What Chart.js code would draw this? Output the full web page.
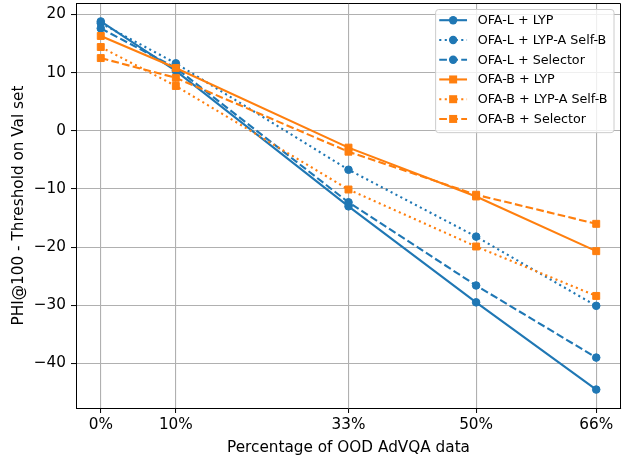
<!DOCTYPE html>
<html>
<head>
<meta charset="utf-8">
<script src="https://cdn.jsdelivr.net/npm/chart.js@4"></script>
<style>
html, body { margin: 0; padding: 0; background: #fff; }
</style>
</head>
<body>
<canvas id="chart" width="629" height="459"></canvas>
<script>
const percents = [0, 10, 33, 50, 66]
const tickLabels = ["0%", "10%", "33%", "50%", "66%"]
const yTicks = [-40, -30, -20, -10, 0, 10, 20]

const ofaLLyp = [18.8, 10.3, -13.0, -29.5, -44.5]
const ofaLSelfB = [18.5, 11.6, -6.7, -18.2, -30.1]
const ofaLSelector = [17.6, 10.8, -12.3, -26.6, -39.0]
const ofaBLyp = [16.3, 10.8, -2.9, -11.3, -20.7]
const ofaBSelfB = [14.4, 7.7, -10.1, -19.9, -28.4]
const ofaBSelector = [12.5, 9.1, -3.6, -11.0, -16.0]

const blue = "#1f77b4"
const orange = "#ff7f0e"
const dashed = [7.7, 3.3]
const dotted = [2.1, 3.4]

const toPoints = (vals) => vals.map((v, i) => ({ x: percents[i], y: v }))

function series(label, vals, color, dash, style, order) {
	return {
		label: label,
		data: toPoints(vals),
		borderColor: color,
		backgroundColor: color,
		borderWidth: 2.1,
		borderDash: dash,
		borderCapStyle: "butt",
		pointStyle: style,
		pointRadius: style === "rect" ? 4.9 : 3.8,
		pointBorderWidth: 1,
		pointBorderColor: color,
		pointBackgroundColor: color,
		tension: 0,
		fill: false,
		order: order
	}
}

// chart.js reserves room for half a label at the ends, matplotlib doesn't
function noPadding(scale) {
	scale.paddingTop = 0
	scale.paddingBottom = 0
	scale.paddingLeft = 0
	scale.paddingRight = 0
}

Chart.defaults.font.family = "'DejaVu Sans', sans-serif"
Chart.defaults.font.size = 15.28
Chart.defaults.color = "#000"

// top and right spines, like matplotlib
const frame = {
	id: "frame",
	afterDatasetsDraw(chart) {
		const { ctx, chartArea: a } = chart
		const t = Math.round(a.top) + 0.5
		const r = Math.round(a.right) - 0.5
		ctx.save()
		ctx.strokeStyle = "#000"
		ctx.lineWidth = 1
		ctx.beginPath()
		ctx.moveTo(a.left, t)
		ctx.lineTo(r, t)
		ctx.lineTo(r, a.bottom)
		ctx.stroke()
		ctx.restore()
	}
}

// legend in the upper right, inside the axes
const insideLegend = {
	id: "insideLegend",
	afterDraw(chart) {
		const { ctx, chartArea: a } = chart
		const sets = chart.data.datasets
		ctx.save()
		ctx.font = "12.73px 'DejaVu Sans', sans-serif"
		let maxW = 0
		sets.forEach(d => { maxW = Math.max(maxW, ctx.measureText(d.label).width) })
		const w = 3.6 + 27.8 + 10.6 + maxW + 6.5
		const rowH = 19.75
		const h = 10.7 + rowH * (sets.length - 1) + 13.7
		const x0 = a.right - 7 - w
		const y0 = a.top + 6.5
		ctx.beginPath()
		ctx.roundRect(x0, y0, w, h, 3)
		ctx.fillStyle = "rgba(255,255,255,0.8)"
		ctx.fill()
		ctx.strokeStyle = "#cccccc"
		ctx.lineWidth = 1
		ctx.stroke()
		sets.forEach((d, i) => {
			const y = y0 + 10.7 + i * rowH
			const lx = x0 + 3.6
			ctx.beginPath()
			ctx.setLineDash(d.borderDash || [])
			ctx.lineCap = "butt"
			ctx.strokeStyle = d.borderColor
			ctx.lineWidth = d.borderWidth
			ctx.moveTo(lx, y)
			ctx.lineTo(lx + 27.8, y)
			ctx.stroke()
			ctx.setLineDash([])
			const cx = lx + 13.9
			ctx.fillStyle = d.borderColor
			ctx.beginPath()
			if (d.pointStyle === "rect") {
				ctx.rect(cx - 4, y - 4, 8, 8)
			} else {
				ctx.arc(cx, y, 4.2, 0, Math.PI * 2)
			}
			ctx.fill()
			ctx.fillStyle = "#000"
			ctx.textBaseline = "middle"
			ctx.textAlign = "left"
			ctx.fillText(d.label, lx + 27.8 + 10.6, y + 0.5)
		})
		ctx.restore()
	}
}

new Chart(document.getElementById("chart").getContext("2d"), {
	type: "line",
	data: {
		datasets: [
			series("OFA-L + LYP", ofaLLyp, blue, [], "circle", 6),
			series("OFA-L + LYP-A Self-B", ofaLSelfB, blue, dotted, "circle", 5),
			series("OFA-L + Selector", ofaLSelector, blue, dashed, "circle", 4),
			series("OFA-B + LYP", ofaBLyp, orange, [], "rect", 3),
			series("OFA-B + LYP-A Self-B", ofaBSelfB, orange, dotted, "rect", 2),
			series("OFA-B + Selector", ofaBSelector, orange, dashed, "rect", 1)
		]
	},
	options: {
		responsive: false,
		animation: false,
		devicePixelRatio: 1,
		layout: {
			autoPadding: false,
			padding: { top: 3, right: 8, left: 0, bottom: 0 }
		},
		scales: {
			x: {
				type: "linear",
				min: -3.3,
				max: 69.3,
				afterBuildTicks: (scale) => {
					scale.ticks = percents.map(v => ({ value: v }))
				},
				afterFit: (scale) => {
					scale.height = 51
					noPadding(scale)
				},
				ticks: {
					autoSkip: false,
					maxRotation: 0,
					padding: 3.2,
					callback: (v) => tickLabels[percents.indexOf(v)]
				},
				grid: {
					color: "#b0b0b0",
					lineWidth: 1.1,
					drawTicks: true,
					tickLength: 5,
					tickColor: "#000",
					tickWidth: 1
				},
				border: {
					display: true,
					color: "#000",
					width: 1
				},
				title: {
					display: true,
					text: "Percentage of OOD AdVQA data",
					padding: { top: 0, bottom: 2.1 }
				}
			},
			y: {
				type: "linear",
				min: -47.67,
				max: 21.97,
				afterBuildTicks: (scale) => {
					scale.ticks = yTicks.map(v => ({ value: v }))
				},
				afterFit: (scale) => {
					scale.width = 76
					noPadding(scale)
				},
				ticks: {
					padding: 5,
					callback: (v) => (v < 0 ? "\u2212" + Math.abs(v) : "" + v)
				},
				grid: {
					color: "#b0b0b0",
					lineWidth: 1.1,
					drawTicks: true,
					tickLength: 5,
					tickColor: "#000",
					tickWidth: 1
				},
				border: {
					display: true,
					color: "#000",
					width: 1
				},
				title: {
					display: true,
					text: "PHI@100 - Threshold on Val set",
					padding: { top: 9.5, bottom: 0 }
				}
			}
		},
		plugins: {
			legend: {
				display: false
			},
			tooltip: {
				enabled: false
			}
		}
	},
	plugins: [frame, insideLegend]
})
</script>
</body>
</html>
